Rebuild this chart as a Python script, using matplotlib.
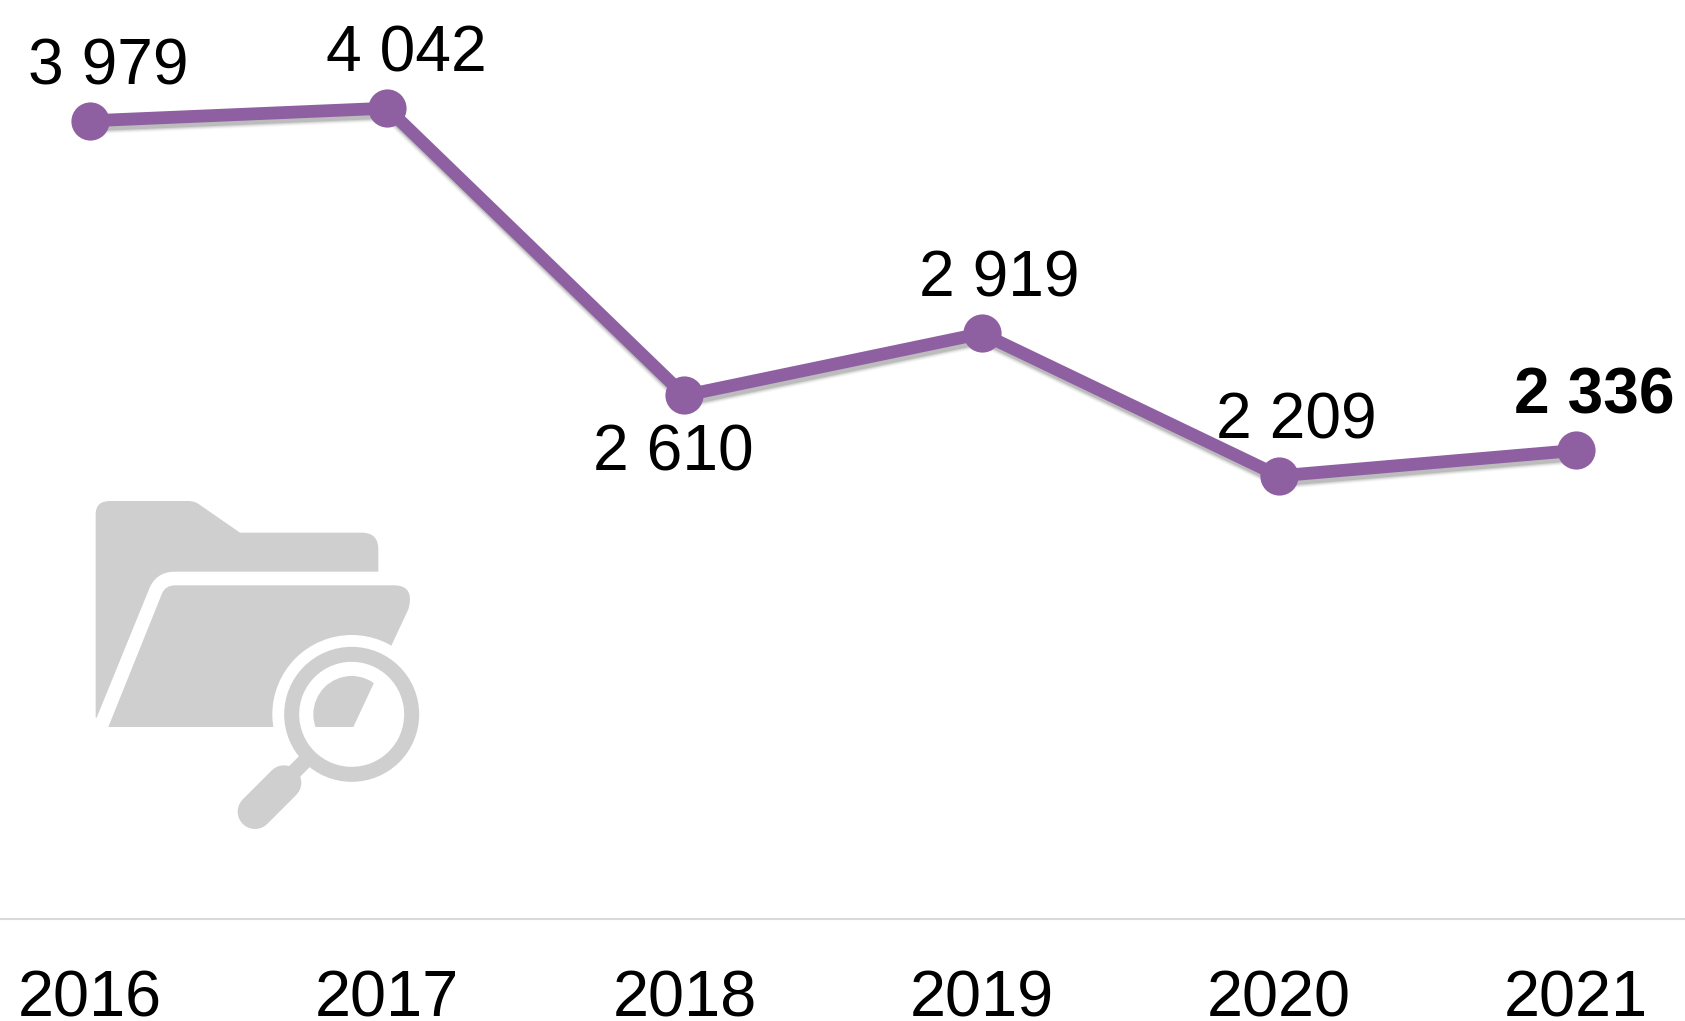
import matplotlib
matplotlib.use("Agg")
import matplotlib.pyplot as plt
import matplotlib.patheffects as pe
from matplotlib.path import Path
from matplotlib.patches import PathPatch, Circle
from matplotlib.transforms import Affine2D

plt.rcParams['font.family'] = ['Liberation Sans', 'DejaVu Sans']

# Data
years = ['2016', '2017', '2018', '2019', '2020', '2021']
values = [3979, 4042, 2610, 2919, 2209, 2336]
labels = ['3 979', '4 042', '2 610', '2 919', '2 209', '2 336']

# Label offsets from the points, in pixels (x right, y up)
label_dx = [18, 19, -11, 18, 18, 18]
label_dy = [36, 37, -75, 37, 37, 37]

purple = '#8E60A2'
grey = '#CFCFCF'

fig = plt.figure(figsize=(16.85, 10.21), dpi=100)
ax = fig.add_axes([0, 102 / 1021, 1, 919 / 1021])
x = list(range(len(years)))

# Line with a soft shadow underneath
shadow = []
for w, a in [(12.5, 0.03), (11, 0.05), (9.5, 0.08), (8, 0.12)]:
    shadow.append(pe.SimpleLineShadow(offset=(1.5, -3.5), shadow_color='black', alpha=a, linewidth=w))
ax.plot(x, values, color=purple, lw=9.2, solid_capstyle='butt', solid_joinstyle='miter',
        path_effects=shadow + [pe.Normal()], zorder=2)
ax.plot(x, values, ls='none', marker='o', ms=27.5, mfc=purple, mec=purple, mew=0, zorder=3)

for i in x:
    ax.annotate(labels[i], (x[i], values[i]), xytext=(label_dx[i], label_dy[i]),
                textcoords='offset pixels', ha='center', va='baseline', fontsize=46.2,
                fontweight='bold' if i == 5 else 'normal', color='black', zorder=4)

ax.set_xlim((0 - 90) / 297.2, (1685 - 90) / 297.2)
ax.set_ylim(0, 919 / 0.2006)
ax.set_xticks(x)
ax.set_xticklabels(years, fontsize=46.7)
ax.tick_params(axis='x', length=0, pad=36)
ax.set_yticks([])
for s in ['top', 'left', 'right']:
    ax.spines[s].set_visible(False)
ax.spines['bottom'].set_color('#D9D9D9')
ax.spines['bottom'].set_linewidth(1.5)

# Folder icon, drawn in pixels
icon = Affine2D().scale(1 / 3, -1 / 3).translate(60, 1021 - 471)
M, L, C3, Z = Path.MOVETO, Path.LINETO, Path.CURVE3, Path.CLOSEPOLY

back = Path([(107, 740), (107, 130), (107, 90), (150, 90), (385, 90), (405, 90), (420, 102),
             (540, 185), (905, 185), (955, 185), (955, 235), (955, 302), (345, 302),
             (285, 302), (265, 360), (110, 740), (107, 740)],
            [M, L, C3, C3, L, C3, C3, L, L, C3, C3, L, L, C3, C3, L, Z])
front = Path([(145, 768), (305, 370), (315, 343), (345, 343), (1005, 343), (1065, 345),
              (1045, 415), (880, 768), (145, 768)],
             [M, L, C3, C3, L, C3, C3, L, Z])
cx, cy = 875, 730

def add(patch):
    patch.set_transform(icon)
    patch.set_clip_on(False)
    ax.add_artist(patch)
    return patch

add(PathPatch(back, fc=grey, ec='none', zorder=5))
add(PathPatch(front, fc=grey, ec='none', zorder=5))
add(Circle((cx, cy), 238, fc='white', ec='none', zorder=6))
add(Circle((cx, cy), 180, fc='none', ec=grey, lw=10.8, zorder=7))
inner = add(PathPatch(front, fc=grey, ec='none', zorder=7))
inner.set_clip_on(True)
inner.set_clip_path(Circle((cx, cy), 115, transform=icon))
add(PathPatch(Path([(735, 870), (695, 910)]), ec=grey, lw=11, capstyle='butt', zorder=7))
add(PathPatch(Path([(672, 935), (585, 1022)]), ec=grey, lw=25, capstyle='round', zorder=7))

fig.savefig('out.png', dpi=100, facecolor='white')
